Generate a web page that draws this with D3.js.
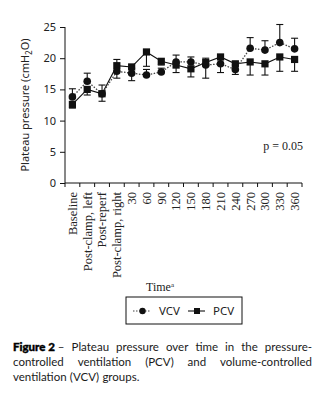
<!DOCTYPE html>
<html lang="en">
<head>
<meta charset="utf-8">
<title>Plateau pressure</title>
<script src="https://cdn.jsdelivr.net/npm/d3@7"></script>
<style>
  html, body { margin: 0; padding: 0; background: #fff; }
  svg { display: block; }
</style>
</head>
<body>
<div id="chart"></div>
<script>

// time points along the x axis
var categories = ["Baseline", "Post-clamp, left", "Post-reperf", "Post-clamp, right",
                  "30", "60", "90", "120", "150", "180", "210", "240", "270", "300", "330", "360"];

// mean plateau pressure (cmH2O) per group
var vcv = [13.8, 16.3, 14.3, 17.9, 17.6, 17.3, 17.8, 19.4, 19.4, 18.9, 19.1, 18.2, 21.6, 21.3, 22.5, 21.5];
var pcv = [12.6, 15.0, 14.3, 18.8, 18.6, 21.0, 19.5, 18.9, 18.3, 19.3, 20.2, 19.1, 19.4, 19.1, 20.2, 19.8];

// error bars: VCV drawn upward, PCV drawn downward
var vcvErr = [1.3, 1.3, 1.4, 1.9, 0.8, 0.9, 0.6, 1.1, 0.8, 1.1, 0.8, 0.7, 1.7, 1.5, 2.9, 1.7];
var pcvErr = [0.6, 0.9, 1.2, 2.0, 2.2, 2.3, 0.6, 1.2, 1.3, 2.5, 2.5, 1.7, 2.1, 1.8, 2.3, 1.9];

var yTicks = [0, 5, 10, 15, 20, 25];

var captionLines = [
  ["Figure 2 \u2013", "Plateau", "pressure", "over", "time", "in", "the", "pressure-"],
  ["controlled", "ventilation", "(PCV)", "and", "volume-controlled"],
  ["ventilation", "(VCV)", "groups."]
];

var w = 321, h = 400;
var plotLeft = 65, plotRight = 302, plotTop = 27, plotBottom = 183;

var svg = d3.select("#chart").append("svg")
    .attr("width", w)
    .attr("height", h);

var x = d3.scaleBand().domain(categories).range([plotLeft, plotRight]).padding(0);
var y = d3.scaleLinear().domain([0, 25]).range([plotBottom, plotTop]);
var cx = function(i){ return x(categories[i]) + x.bandwidth() / 2; };

var sans = "'Noto Sans', 'Open Sans', sans-serif";
var serif = "'Liberation Serif', 'DejaVu Serif', serif";

// y axis
var yAxis = svg.append("g")
    .attr("transform", "translate(" + plotLeft + ",0)")
    .call(d3.axisLeft(y).tickValues(yTicks).tickSize(5).tickPadding(4).tickFormat(d3.format("d")));
yAxis.select(".domain").attr("d", "M0," + y(25) + "V" + y(0)).attr("stroke", "#111");
yAxis.selectAll(".tick line").attr("stroke", "#111");
yAxis.selectAll("text").attr("font-family", sans).attr("font-size", 11).attr("fill", "#222");

// x axis: boundary ticks plus rotated labels
var xg = svg.append("g");
xg.append("line")
    .attr("x1", plotLeft).attr("x2", plotRight)
    .attr("y1", plotBottom).attr("y2", plotBottom)
    .attr("stroke", "#111");
var bounds = categories.map(function(c){ return x(c); }).concat([plotRight]);
xg.selectAll(".bt").data(bounds).enter().append("line")
    .attr("x1", function(d){ return d; }).attr("x2", function(d){ return d; })
    .attr("y1", plotBottom).attr("y2", plotBottom + 4)
    .attr("stroke", "#111");
xg.selectAll(".lbl").data(categories).enter().append("text")
    .attr("transform", function(d){ return "translate(" + (x(d) + x.bandwidth() / 2) + "," + (plotBottom + 9) + ") rotate(-90)"; })
    .attr("dy", "0.35em")
    .attr("text-anchor", "end")
    .attr("font-family", serif)
    .attr("font-size", 12.5)
    .attr("fill", "#222")
    .text(function(d){ return d; });

// axis titles
var yt = svg.append("text")
    .attr("transform", "translate(29," + ((plotTop + plotBottom) / 2) + ") rotate(-90)")
    .attr("text-anchor", "middle")
    .attr("font-family", sans)
    .attr("font-size", 11)
    .attr("fill", "#222");
yt.append("tspan").text("Plateau pressure (cmH");
yt.append("tspan").attr("font-size", 8).attr("dy", 3).text("2");
yt.append("tspan").attr("dy", -3).text("O)");

var xt = svg.append("text")
    .attr("x", 160).attr("y", 291)
    .attr("text-anchor", "middle")
    .attr("font-family", serif)
    .attr("font-size", 12)
    .attr("fill", "#222");
xt.append("tspan").text("Time");
xt.append("tspan").attr("font-size", 7).attr("dy", -4).text("a");

svg.append("text")
    .attr("x", 303).attr("y", 150)
    .attr("text-anchor", "end")
    .attr("font-family", serif)
    .attr("font-size", 12)
    .attr("fill", "#222")
    .text("p = 0.05");

// error bars
function errorBars(vals, errs, dir){
  var g = svg.append("g").attr("stroke", "#111").attr("stroke-width", 1.1);
  vals.forEach(function(v, i){
    var y2 = y(v + dir * errs[i]);
    g.append("line").attr("x1", cx(i)).attr("x2", cx(i)).attr("y1", y(v)).attr("y2", y2);
    g.append("line").attr("x1", cx(i) - 3.5).attr("x2", cx(i) + 3.5).attr("y1", y2).attr("y2", y2);
  });
}
errorBars(vcv, vcvErr, 1);
errorBars(pcv, pcvErr, -1);

var line = d3.line()
    .x(function(d, i){ return cx(i); })
    .y(function(d){ return y(d); });

svg.append("path")
    .datum(pcv)
    .attr("d", line)
    .attr("fill", "none")
    .attr("stroke", "#111")
    .attr("stroke-width", 1.1);

svg.append("path")
    .datum(vcv)
    .attr("d", line)
    .attr("fill", "none")
    .attr("stroke", "#444")
    .attr("stroke-width", 1.3)
    .attr("stroke-dasharray", "1.5,1.5");

svg.selectAll(".sq").data(pcv).enter().append("rect")
    .attr("x", function(d, i){ return cx(i) - 3.6; })
    .attr("y", function(d){ return y(d) - 3.6; })
    .attr("width", 7.2).attr("height", 7.2)
    .attr("fill", "#111");

svg.selectAll(".dot").data(vcv).enter().append("circle")
    .attr("cx", function(d, i){ return cx(i); })
    .attr("cy", function(d){ return y(d); })
    .attr("r", 3.8)
    .attr("fill", "#111");

// legend
var lg = svg.append("g");
lg.append("rect")
    .attr("x", 126).attr("y", 297).attr("width", 116).attr("height", 27)
    .attr("fill", "none").attr("stroke", "#111");
var ly = 311;
lg.append("line").attr("x1", 133).attr("x2", 151).attr("y1", ly).attr("y2", ly)
    .attr("stroke", "#444").attr("stroke-width", 1.2).attr("stroke-dasharray", "1.5,1.5");
lg.append("circle").attr("cx", 142.5).attr("cy", ly).attr("r", 3.2).attr("fill", "#111");
lg.append("text").attr("x", 159).attr("y", ly + 4)
    .attr("font-family", sans).attr("font-size", 11.5).attr("fill", "#222").text("VCV");
lg.append("line").attr("x1", 188).attr("x2", 205).attr("y1", ly).attr("y2", ly)
    .attr("stroke", "#111").attr("stroke-width", 1.1);
lg.append("rect").attr("x", 194).attr("y", ly - 3).attr("width", 6).attr("height", 6).attr("fill", "#111");
lg.append("text").attr("x", 213).attr("y", ly + 4)
    .attr("font-family", sans).attr("font-size", 11.5).attr("fill", "#222").text("PCV");

// caption, justified by hand (last line left aligned)
var capLeft = 13, capRight = 312, capY = [351, 366, 381];
captionLines.forEach(function(words, li){
  var nodes = words.map(function(wd, wi){
    var t = svg.append("text")
        .attr("y", capY[li])
        .attr("font-family", "Lato, 'Open Sans', sans-serif")
        .attr("font-size", 11.5)
        .attr("fill", "#1a1a1a");
    if (li === 0 && wi === 0) {
      t.append("tspan").attr("font-weight", 900).attr("fill", "#000")
          .attr("stroke", "#000").attr("stroke-width", 0.4).text("Figure 2");
      t.append("tspan").text(" \u2013");
    } else {
      t.text(wd);
    }
    return t;
  });
  var widths = nodes.map(function(t){ return t.node().getComputedTextLength(); });
  var total = d3.sum(widths);
  var gap = li < captionLines.length - 1 ? (capRight - capLeft - total) / (words.length - 1) : 3.2;
  var pos = capLeft;
  nodes.forEach(function(t, i){
    t.attr("x", pos);
    pos += widths[i] + gap;
  });
});

</script>
</body>
</html>
